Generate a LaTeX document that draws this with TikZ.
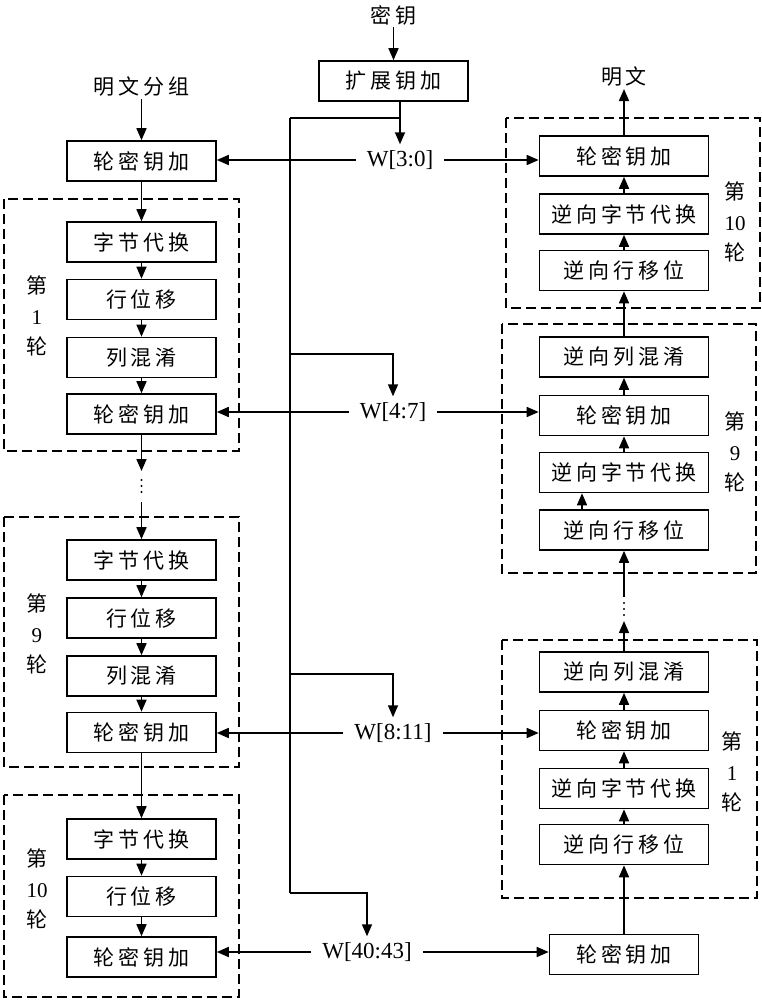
\documentclass[tikz,border=0pt]{standalone}
\usepackage{fontspec}
\setmainfont{Liberation Serif}
\newfontfamily\cjk{Noto Sans CJK SC}[LetterSpace=18]
\usetikzlibrary{arrows.meta}

\tikzset{
  box/.style={draw, line width=1.6pt, minimum width=149pt, minimum height=40pt, inner sep=0pt, font=\cjk\fontsize{21}{24}\selectfont},
  wbox/.style={box, minimum width=169pt},
  lunbox/.style={draw, line width=1.4pt, dash pattern=on 10pt off 5pt},
  lab/.style={font=\cjk\fontsize{21}{30.5}\selectfont, align=center, inner sep=2pt},
  wlab/.style={font=\fontsize{23}{26}\selectfont, inner xsep=11pt, inner ysep=6pt},
  arr/.style={-{Triangle[length=12pt,width=10pt]}, line width=1.6pt},
  line/.style={line width=1.6pt},
}

\begin{document}
\begin{tikzpicture}[x=1pt, y=-1pt]
\useasboundingbox (0,0) rectangle (762,1000);

% 虚线框 (每一轮)
\draw[lunbox] (4,199) rectangle (239,451);
\draw[lunbox] (4,517) rectangle (239,767);
\draw[lunbox] (4,795) rectangle (239,997);
\draw[lunbox] (506,118) rectangle (760,308);
\draw[lunbox] (502,324) rectangle (756,573);
\draw[lunbox] (502,640) rectangle (757,898);

% 输入输出
\node[lab] (pin) at (141.5,87) {明文分组};
\node[lab] (key) at (393.5,15) {密钥};
\node[lab] (pout) at (624,77) {明文};
\node[box] (kz) at (393.5,81) {扩展钥加};

% 加密 (左列)
\node[box] (l0) at (141.5,161) {轮密钥加};
\foreach \n/\y/\t in {1/242/字节代换, 2/299.5/行位移, 3/357.5/列混淆, 4/414/轮密钥加,
                      5/560/字节代换, 6/618/行位移, 7/676/列混淆, 8/732.5/轮密钥加,
                      9/839/字节代换, 10/896.5/行位移, 11/957/轮密钥加}
  \node[box] (l\n) at (141.5,\y) {\t};

% 解密 (右列)
\foreach \n/\y/\t in {0/156/轮密钥加, 1/214/逆向字节代换, 2/270.5/逆向行移位,
                      3/357/逆向列混淆, 4/415.5/轮密钥加, 5/472.5/逆向字节代换, 6/530/逆向行移位,
                      7/672/逆向列混淆, 8/730.5/轮密钥加, 9/788.5/逆向字节代换, 10/844.5/逆向行移位}
  \node[wbox] (r\n) at (624,\y) {\t};
\node[box] (r11) at (624,954.5) {轮密钥加};

% 轮数标注
\node[lab] (t1) at (37,316) {第\\{\rmfamily 1}\\轮};
\node[lab] (t9) at (37,634) {第\\{\rmfamily 9}\\轮};
\node[lab] (t10) at (37,889) {第\\{\rmfamily 10}\\轮};
\node[lab] (s10) at (735,222) {第\\{\rmfamily 10}\\轮};
\node[lab] (s9) at (735,452) {第\\{\rmfamily 9}\\轮};
\node[lab] (s1) at (732,772) {第\\{\rmfamily 1}\\轮};

% 轮密钥
\node[wlab] (w1) at (400,160) {W[3:0]};
\node[wlab] (w2) at (393,412) {W[4:7]};
\node[wlab] (w3) at (393,733) {W[8:11]};
\node[wlab] (w4) at (367,952) {W[40:43]};

% 左列箭头
\draw[arr] (pin) -- (l0);
\foreach \a/\b in {l0/l1, l1/l2, l2/l3, l3/l4, l5/l6, l6/l7, l7/l8, l8/l9, l9/l10, l10/l11}
  \draw[arr] (\a) -- (\b);
\coordinate (ld1) at (141.5,471);
\coordinate (ld2) at (141.5,502);
\draw[arr] (l4) -- (ld1);
\draw[arr] (ld2) -- (l5);
\foreach \y in {480,486,492} \fill (141.5,\y) circle (1.2pt);

% 右列箭头
\coordinate (rd1) at (624,597);
\coordinate (rd2) at (624,621);
\foreach \a/\b in {r0/pout, r1/r0, r2/r1, r3/r2, r4/r3, r5/r4, rd1/r6, r7/rd2, r8/r7, r9/r8, r10/r9, r11/r10}
  \draw[arr] (\a) -- (\b);
\draw[arr] ([xshift=-42pt]r6.north) -- ([xshift=-42pt]r5.south);
\foreach \y in {603,609,615} \fill (624,\y) circle (1.2pt);

% 密钥总线
\draw[arr] (key) -- (kz);
\coordinate (b1) at (290,118);
\coordinate (b2) at (290,354);
\coordinate (b3) at (290,674);
\coordinate (b4) at (290,893);
\draw[line] (b1) -- (b4);
\draw[line] (b1) -- (b1 -| w1);
\draw[arr] (kz.south -| w1) -- (w1);
\draw[arr] (b2) -| (w2);
\draw[arr] (b3) -| (w3);
\draw[arr] (b4) -| (w4);

% 轮密钥送到两侧
\foreach \w/\a/\b in {w1/l0/r0, w2/l4/r4, w3/l8/r8, w4/l11/r11} {
  \draw[arr] (\w.west) -- (\w.west -| \a.east);
  \draw[arr] (\w.east) -- (\w.east -| \b.west);
}

\end{tikzpicture}
\end{document}
